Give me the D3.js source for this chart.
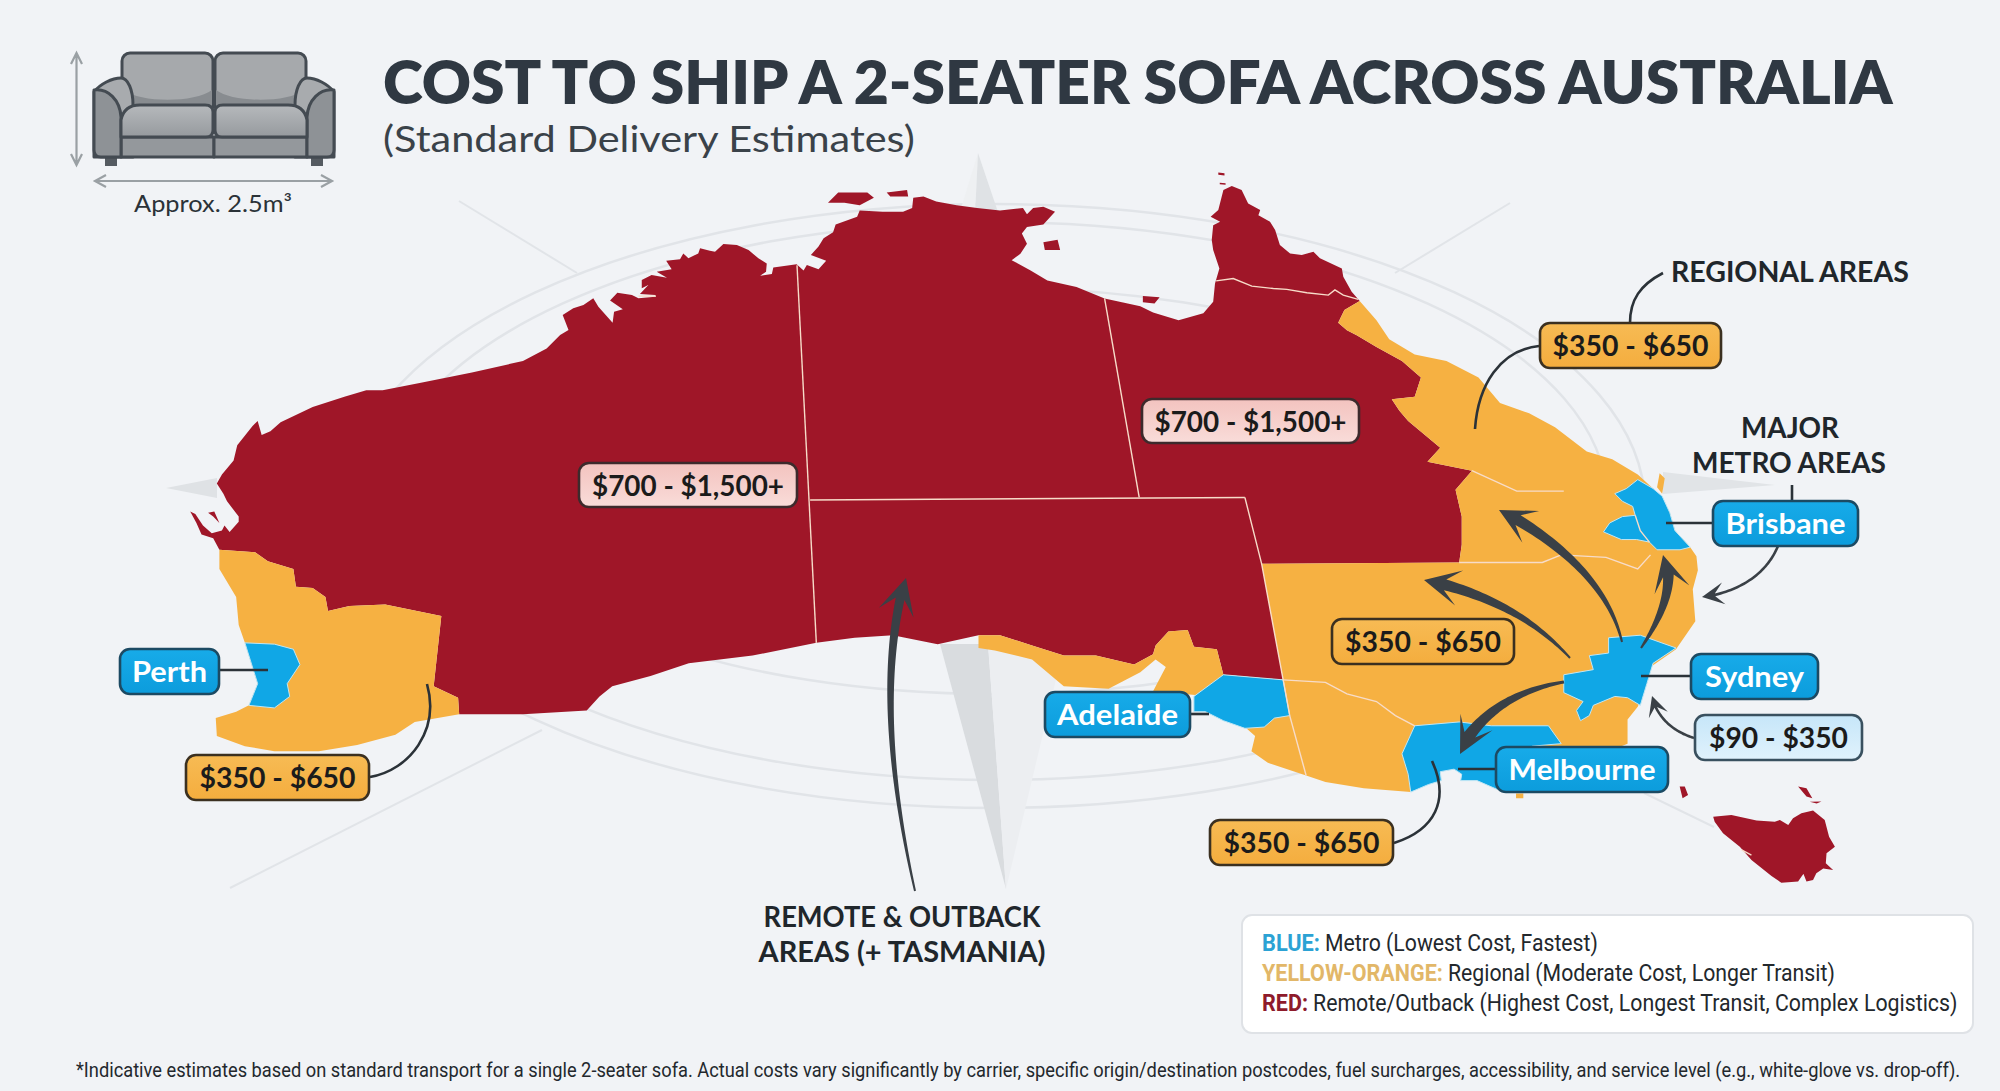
<!DOCTYPE html>
<html>
<head>
  <title>Cost to ship a 2-seater sofa across Australia</title>
  <meta charset="utf-8" />
  <style type="text/css">
    body { margin: 0; background: #f1f3f6; }
    svg { display: block; }
  </style>
  <script src="https://d3js.org/d3.v7.min.js" charset="utf-8" type="text/javascript"></script>
</head>
<body>
<svg id="chart" width="2000" height="1091"></svg>
<script>
  // outlines as [lon, lat] (its map is stretched and Tasmania sits east of true)
  var westNorthCoast = [[113.27,-28.16],[113.10,-27.62],[112.78,-27.44],[112.64,-26.90],[112.47,-26.36],[112.61,-26.48],[112.82,-27.02],[113.06,-27.38],[113.34,-27.26],[113.41,-27.02],[113.55,-27.32],[113.80,-26.84],[113.80,-26.60],[113.48,-25.88],[113.38,-25.52],[113.20,-25.04],[113.34,-24.62],[113.66,-23.96],[113.76,-23.24],[114.18,-22.34],[114.32,-22.10],[114.43,-22.76],[114.67,-22.58],[114.95,-22.16],[115.83,-21.44],[116.70,-20.96],[117.30,-20.66],[117.75,-20.66],[118.80,-20.30],[120.20,-19.82],[121.60,-19.28],[122.25,-18.69],[122.62,-18.06],[122.85,-17.82],[122.69,-17.12],[122.98,-16.80],[123.26,-16.65],[123.53,-16.33],[123.67,-16.73],[124.06,-17.48],[124.10,-16.96],[124.34,-16.85],[123.99,-16.44],[124.19,-16.07],[124.59,-16.18],[124.77,-16.33],[125.23,-16.26],[125.23,-16.18],[124.81,-16.13],[125.04,-15.71],[124.86,-15.86],[124.86,-15.47],[125.13,-15.24],[125.55,-15.36],[125.27,-15.08],[125.68,-14.97],[125.53,-14.56],[125.91,-14.50],[126.00,-14.22],[126.14,-14.45],[126.41,-14.22],[126.46,-13.98],[126.73,-14.09],[126.87,-14.14],[127.10,-13.78],[127.47,-13.83],[127.79,-14.06],[128.06,-14.45],[128.29,-14.69],[128.27,-15.08],[128.11,-15.27],[128.43,-15.19],[128.47,-14.88],[129.11,-14.73],[129.30,-15.03],[129.39,-14.77],[129.71,-14.97],[129.92,-14.56],[129.50,-14.30],[129.71,-13.90],[129.85,-13.51],[130.11,-13.22],[130.18,-12.86],[130.77,-12.50],[130.84,-12.20],[131.47,-12.26],[132.03,-12.26],[132.28,-12.08],[132.31,-11.60],[132.59,-11.54],[132.94,-11.78],[133.50,-11.96],[134.06,-12.08],[134.69,-12.20],[135.32,-12.08],[135.43,-12.38],[135.60,-12.08],[135.88,-12.02],[136.20,-12.26],[135.88,-12.86],[135.43,-12.98],[135.29,-13.28],[135.43,-13.76],[135.25,-14.24],[135.01,-14.54],[135.53,-15.02],[135.99,-15.50],[136.79,-15.80],[137.56,-16.34],[138.54,-16.70],[138.89,-17.00],[139.59,-17.36],[140.27,-17.04],[140.54,-16.49],[140.59,-15.63],[140.71,-14.93],[140.54,-14.06],[140.50,-13.59],[140.54,-12.89],[140.73,-12.73],[140.47,-12.50],[140.68,-12.18],[140.82,-11.24],[141.05,-11.05],[141.32,-11.24],[141.50,-11.87],[141.83,-12.18],[141.78,-12.42],[142.10,-12.73],[142.24,-13.12],[142.37,-13.83],[142.65,-14.22],[142.97,-14.30],[143.29,-14.14],[143.47,-14.45],[144.07,-14.93],[144.11,-15.32],[144.34,-16.02],[144.56,-16.46]];
  var queenslandFront = [[144.56,-16.46],[144.14,-16.88],[143.97,-17.48],[144.21,-17.84],[144.49,-18.08],[145.02,-18.62],[145.72,-19.28],[146.24,-20.06],[146.07,-20.96],[145.44,-21.08],[145.65,-21.62],[145.89,-22.10],[146.77,-23.36],[146.42,-24.02],[147.64,-24.44],[147.19,-25.34],[147.36,-26.60],[147.36,-27.92],[147.29,-28.76]];
  var southAusFront = [[142.46,-34.28],[140.82,-34.04],[140.64,-32.84],[140.01,-32.72],[139.84,-31.94],[139.31,-32.00],[138.96,-32.66],[138.89,-33.08],[138.37,-33.56],[137.32,-33.14],[136.44,-33.14],[135.57,-32.66],[134.69,-32.18],[134.10,-32.18]];
  var bightCoast = [[132.98,-32.60],[131.75,-32.18],[130.70,-32.30],[129.65,-32.54],[127.90,-33.14],[126.15,-33.50],[125.10,-34.10],[124.05,-34.58],[123.70,-35.06],[123.35,-35.72],[121.60,-35.90],[119.85,-35.90]];
  var westAusFront = [[119.85,-35.90],[119.82,-35.12],[119.15,-34.58],[119.36,-31.28],[117.82,-30.74],[116.84,-30.80],[116.25,-31.04],[116.18,-30.38],[115.83,-29.96],[115.37,-29.90],[115.30,-29.06],[114.60,-28.70],[114.25,-28.28]];
  var southWestCoast = [[118.63,-36.26],[118.10,-36.86],[117.05,-37.34],[116.00,-37.64],[114.78,-37.64],[113.97,-37.40],[113.20,-36.92],[113.17,-36.08],[113.73,-35.78],[114.08,-35.48],[114.32,-34.46],[113.97,-32.54],[113.80,-31.70],[113.73,-30.38],[113.27,-29.06]];
  var eastCoast = [[145.02,-17.36],[145.37,-18.26],[146.07,-18.98],[146.94,-19.28],[147.82,-20.06],[148.41,-21.26],[149.21,-21.74],[149.92,-22.40],[150.79,-23.54],[151.49,-23.90],[152.19,-24.62],[152.61,-25.28],[153.07,-26.42],[153.21,-27.26],[153.63,-28.04],[153.80,-28.46],[153.84,-29.12],[153.70,-30.02],[153.77,-31.52],[153.24,-32.84],[152.54,-33.68],[152.44,-34.46],[152.19,-35.54],[151.91,-36.14],[151.91,-37.28],[151.74,-37.40],[149.29,-37.40],[146.10,-37.70],[145.96,-39.56],[144.67,-39.38],[143.62,-39.08],[143.09,-38.78],[142.04,-38.18],[141.59,-37.64],[141.69,-36.92],[141.41,-36.50],[142.46,-34.28],[141.87,-28.82]];
  var spencerCoast = [[134.10,-32.78],[134.55,-32.90],[135.57,-33.32],[136.44,-34.58],[137.67,-34.70],[138.54,-33.92],[138.96,-33.32],[139.24,-33.68],[138.89,-34.82],[140.12,-35.00]];

  var sydneyRing = [[151.39,-32.30],[152.26,-32.18],[153.24,-32.78],[152.61,-33.50],[152.44,-34.46],[152.26,-35.48],[151.91,-35.12],[151.56,-35.06],[150.97,-35.48],[150.86,-35.96],[150.62,-36.20],[150.51,-35.72],[150.69,-35.30],[150.16,-34.88],[150.16,-34.04],[150.97,-33.80],[150.86,-33.14],[151.39,-33.02]];
  var brisbaneRing = [[152.19,-24.86],[152.61,-25.28],[152.86,-25.64],[153.07,-26.42],[153.21,-27.26],[153.63,-28.04],[153.35,-28.16],[152.72,-28.16],[152.51,-27.80],[152.16,-27.68],[151.74,-27.68],[151.25,-27.32],[151.42,-26.90],[151.77,-26.60],[152.12,-26.54],[152.05,-26.12],[151.77,-25.88],[151.56,-25.52],[151.88,-25.28]];
  var melbourneRing = [[145.72,-37.76],[146.07,-36.44],[147.29,-36.26],[148.17,-36.44],[149.74,-36.44],[150.09,-37.28],[149.29,-37.40],[148.90,-38.30],[148.34,-39.44],[147.78,-39.02],[147.33,-39.02],[147.36,-38.72],[147.15,-38.48],[146.77,-38.60],[146.80,-39.02],[146.45,-39.20],[145.96,-39.56],[145.89,-38.72]];
  var adelaideRing = [[140.01,-35.06],[140.82,-34.04],[142.46,-34.28],[142.64,-35.96],[142.22,-36.08],[141.94,-36.50],[141.41,-36.56],[140.82,-36.20],[140.33,-35.78],[140.01,-35.78]];
  var perthRing = [[113.97,-32.54],[114.78,-32.60],[115.30,-32.84],[115.48,-33.56],[115.13,-34.46],[115.20,-35.06],[114.78,-35.60],[114.08,-35.48],[114.32,-34.46]];

  var tasmaniaRing = [[154.26,-40.72],[154.76,-40.64],[155.45,-40.90],[155.95,-40.95],[156.09,-40.87],[156.32,-41.11],[156.45,-40.79],[156.68,-40.56],[157.00,-40.43],[157.32,-40.87],[157.44,-41.66],[157.60,-42.13],[157.37,-42.44],[157.35,-42.91],[157.55,-43.22],[157.28,-43.15],[157.09,-43.38],[157.00,-43.69],[156.82,-43.77],[156.73,-43.38],[156.91,-42.99],[156.68,-43.54],[156.59,-43.77],[156.13,-43.82],[155.86,-43.51],[155.31,-42.75],[154.99,-42.13],[154.53,-41.50],[154.30,-40.95]];
  var remoteIslands = [
    [[112.96,-26.42],[113.13,-26.36],[113.27,-26.90],[113.10,-26.60]],
    [[129.97,-11.84],[130.25,-11.36],[131.05,-11.36],[131.23,-11.60],[130.84,-11.96],[130.42,-11.84]],
    [[131.58,-11.36],[132.14,-11.24],[132.17,-11.54],[131.68,-11.54]],
    [[135.88,-13.70],[136.27,-13.58],[136.34,-14.06],[135.92,-14.06]],
    [[138.61,-16.22],[139.07,-16.28],[138.93,-16.58],[138.61,-16.52]],
    [[140.68,-10.42],[140.85,-10.45],[140.85,-10.55],[140.68,-10.52]],
    [[140.72,-10.90],[140.88,-10.92],[140.88,-10.99],[140.72,-10.97]],
    [[153.34,-39.30],[153.48,-39.30],[153.57,-39.70],[153.42,-39.85]],
    [[156.59,-39.30],[156.82,-39.38],[156.98,-39.85],[156.82,-39.77]],
    [[156.91,-40.01],[157.23,-40.00],[157.10,-40.10]]
  ];
  var fraserIsland = [[152.79,-24.56],[152.93,-24.80],[152.86,-25.52],[152.72,-25.22]];
  var bassIslet = [[148.85,-39.62],[149.05,-39.62],[149.05,-39.85],[148.85,-39.85]];

  var stateBorders = [
    [[129.12,-14.78],[129.65,-32.54]],
    [[129.48,-25.82],[141.41,-25.70]],
    [[141.41,-25.70],[141.87,-28.82],[142.46,-34.28],[142.64,-35.96],[143.09,-38.78]],
    [[137.56,-16.34],[138.51,-25.70]],
    [[140.62,-15.51],[141.09,-15.40],[141.60,-15.76],[142.19,-15.87],[142.56,-15.91],[143.11,-16.07],[143.70,-16.18],[143.88,-15.94],[144.11,-16.18],[144.52,-16.38]],
    [[147.64,-24.44],[148.87,-25.40],[150.16,-25.40]],
    [[147.29,-28.76],[149.57,-28.76],[150.09,-28.40],[151.32,-28.52],[152.19,-29.06],[152.54,-28.40]],
    [[142.46,-34.28],[143.62,-34.40],[144.21,-34.94],[145.02,-35.30],[145.54,-35.96],[146.07,-36.44]],
    [[152.12,-26.54],[152.26,-27.26],[152.51,-27.80]],
    [[124.77,-16.23],[125.25,-16.23]],
    [[155.04,-42.28],[155.31,-42.52]]
  ];

  var priceMetro = "$90 - $350";
  var priceRegional = "$350 - $650";
  var priceRemote = "$700 - $1,500+";
  var cities = ["Brisbane", "Sydney", "Melbourne", "Adelaide", "Perth"];
  var legendKeys = ["BLUE:", "YELLOW-ORANGE:", "RED:"];
  var legendTexts = ["Metro (Lowest Cost, Fastest)", "Regional (Moderate Cost, Longer Transit)", "Remote/Outback (Highest Cost, Longest Transit, Complex Logistics)"];
  var footnote = "*Indicative estimates based on standard transport for a single 2-seater sofa. Actual costs vary significantly by carrier, specific origin/destination postcodes, fuel surcharges, accessibility, and service level (e.g., white-glove vs. drop-off).";

  var tierColor = { metro: "#10a7e6", regional: "#f6b142", remote: "#9f1628" };
  var inkColor = "#2b3238";

  var svg = d3.select("#chart");
  var font = "Lato, 'Noto Sans', sans-serif";
  var narrowFont = "Roboto, sans-serif";

  var x = d3.scaleLinear().domain([107.25, 162.13]).range([0, 2000]);
  var y = d3.scaleLinear().domain([-2.3, -53.62]).range([0, 1091]);
  var path = d3.geoPath(d3.geoTransform({
    point: function (lon, lat) { this.stream.point(x(lon), y(lat)); }
  }));

  function polygon(rings) {
    return { type: "MultiPolygon", coordinates: rings.map(function (r) { return [r.concat([r[0]])]; }) };
  }

  var defs = svg.append("defs");
  function gradient(id, top, bottom) {
    var g = defs.append("linearGradient").attr("id", id).attr("x1", 0).attr("y1", 0).attr("x2", 0).attr("y2", 1);
    g.append("stop").attr("offset", "0%").attr("stop-color", top);
    g.append("stop").attr("offset", "100%").attr("stop-color", bottom);
  }
  gradient("pillRemote", "#f3c3bf", "#f9dcd9");
  gradient("pillMetro", "#c6e6f9", "#e0f2fc");
  gradient("pillRegional", "#f7bb54", "#f4ad3e");
  gradient("pillCity", "#17abe9", "#0c9cdc");
  gradient("sofaSeat", "#b6b9bc", "#969a9e");

  // compass rose behind the map
  var compass = svg.append("g").attr("class", "compass");
  [[995, 506, 650, 302], [995, 501, 612, 279], [995, 491, 510, 203]].forEach(function (e) {
    compass.append("ellipse").attr("cx", e[0]).attr("cy", e[1]).attr("rx", e[2]).attr("ry", e[3])
      .attr("fill", "none").attr("stroke", "#e1e4e8").attr("stroke-width", 2.5);
  });
  [[459, 201, 577, 273], [1510, 203, 1395, 273], [230, 888, 542, 730], [1644, 793, 1714, 827]].forEach(function (l) {
    compass.append("line").attr("x1", l[0]).attr("y1", l[1]).attr("x2", l[2]).attr("y2", l[3])
      .attr("stroke", "#e1e4e8").attr("stroke-width", 2);
  });
  [
    ["M978,153L959,215L975,215Z", "#eef0f2"], ["M978,153L975,215L999,215Z", "#dfe2e5"],
    ["M940,644L1006,889L988,644Z", "#d9dcdf"], ["M988,644L1006,889L1063,650Z", "#eceef1"],
    ["M166,488L217,478L217,498Z", "#dfe2e5"], ["M1775,485L1663,472L1663,494Z", "#e1e4e7"]
  ].forEach(function (s) {
    compass.append("path").attr("d", s[0]).attr("fill", s[1]);
  });

  // map regions
  var regions = [
    { name: "remote", tier: "remote", rings: [westNorthCoast.concat(queenslandFront, [[141.87,-28.82]], southAusFront, bightCoast, westAusFront), tasmaniaRing].concat(remoteIslands) },
    { name: "west", tier: "regional", rings: [[[113.27,-28.16]].concat(westAusFront.slice().reverse(), southWestCoast)] },
    { name: "east", tier: "regional", rings: [[[144.56,-16.46]].concat(eastCoast, queenslandFront.slice().reverse()), fraserIsland, bassIslet] },
    { name: "south", tier: "regional", rings: [southAusFront.concat(spencerCoast)] },
    { name: "brisbane", tier: "metro", rings: [brisbaneRing] },
    { name: "sydney", tier: "metro", rings: [sydneyRing] },
    { name: "melbourne", tier: "metro", rings: [melbourneRing] },
    { name: "adelaide", tier: "metro", rings: [adelaideRing] },
    { name: "perth", tier: "metro", rings: [perthRing] }
  ];

  svg.append("g").attr("class", "regions").selectAll("path")
    .data(regions)
    .enter()
    .append("path")
    .attr("d", function (d) { return path(polygon(d.rings)); })
    .attr("fill", function (d) { return tierColor[d.tier]; })
    .attr("stroke", function (d) { return d.tier === "metro" ? "#bfe6f5" : "none"; })
    .attr("stroke-width", 1)
    .attr("stroke-linejoin", "round");

  svg.append("g").attr("class", "borders").selectAll("path")
    .data(stateBorders)
    .enter()
    .append("path")
    .attr("d", function (d) { return path({ type: "LineString", coordinates: d }); })
    .attr("fill", "none")
    .attr("stroke", "#f7dcc9")
    .attr("stroke-width", 1.4);

  // plain text helper, squeezed sideways to the width measured on the reference
  function label(text, px, py, size, weight, color, anchor, width, family) {
    var t = svg.append("text")
      .attr("font-family", family || font).attr("font-size", size).attr("font-weight", weight)
      .attr("fill", color).attr("text-anchor", anchor || "start").text(text);
    var sx = width / t.node().getComputedTextLength();
    t.attr("transform", "translate(" + px + "," + py + ") scale(" + sx + ",1)");
    return t;
  }

  // thin leaders
  var leaders = [
    "M1663,273C1640,285 1630,300 1630,323", "M1539,346C1500,350 1478,385 1475,429", "M1792,485L1792,501",
    "M1666,523L1713,523", "M219,670L268,670", "M370,777C410,770 440,730 427,684", "M1190,714L1209,714",
    "M1641,676L1691,676", "M1458,769L1496,769", "M1394,843C1435,830 1450,800 1432,761"
  ];
  svg.append("g").attr("class", "leaders").selectAll("path")
    .data(leaders)
    .enter()
    .append("path")
    .attr("d", function (d) { return d; })
    .attr("fill", "none")
    .attr("stroke", inkColor)
    .attr("stroke-width", 2.6);

  // tapered arrows: cubic centre line, width grows to the head
  function arrowShape(p, w0, w1, head) {
    var left = [], right = [], n = 40, lastPt, lastN;
    for (var i = 0; i <= n; i++) {
      var t = i / n, u = 1 - t;
      var px = u*u*u*p[0][0] + 3*u*u*t*p[1][0] + 3*u*t*t*p[2][0] + t*t*t*p[3][0];
      var py = u*u*u*p[0][1] + 3*u*u*t*p[1][1] + 3*u*t*t*p[2][1] + t*t*t*p[3][1];
      var dx = 3*u*u*(p[1][0]-p[0][0]) + 6*u*t*(p[2][0]-p[1][0]) + 3*t*t*(p[3][0]-p[2][0]);
      var dy = 3*u*u*(p[1][1]-p[0][1]) + 6*u*t*(p[2][1]-p[1][1]) + 3*t*t*(p[3][1]-p[2][1]);
      var len = Math.sqrt(dx*dx + dy*dy), nx = -dy/len, ny = dx/len, ux = dx/len, uy = dy/len;
      var w = (w0 + (w1 - w0) * t) / 2;
      left.push([px + nx*w - ux*head*0.6*t, py + ny*w - uy*head*0.6*t]);
      right.push([px - nx*w - ux*head*0.6*t, py - ny*w - uy*head*0.6*t]);
      lastPt = [px, py]; lastN = [nx, ny, ux, uy];
    }
    var tip = lastPt, nn = lastN;
    var barbA = [tip[0] - nn[2]*head + nn[0]*head*0.5, tip[1] - nn[3]*head + nn[1]*head*0.5];
    var barbB = [tip[0] - nn[2]*head - nn[0]*head*0.5, tip[1] - nn[3]*head - nn[1]*head*0.5];
    return left.concat([barbA, tip, barbB], right.reverse());
  }

  var arrows = [
    { p: [[1622,642],[1610,590],[1565,545],[1499,510]], w0: 2, w1: 11, head: 36 },
    { p: [[1570,658],[1535,620],[1490,595],[1424,580]], w0: 2, w1: 11, head: 36 },
    { p: [[1641,648],[1660,620],[1672,590],[1663,555]], w0: 2, w1: 11, head: 36 },
    { p: [[1564,682],[1515,690],[1480,715],[1460,754]], w0: 3, w1: 12, head: 36 },
    { p: [[915,891],[890,780],[880,670],[906,578]], w0: 2, w1: 9, head: 36 },
    { p: [[1694,738],[1675,732],[1660,720],[1652,696]], w0: 2.6, w1: 2.6, head: 20 },
    { p: [[1778,546],[1768,570],[1745,590],[1702,597]], w0: 2.6, w1: 2.6, head: 22 }
  ];
  var area = d3.line();
  svg.append("g").attr("class", "arrows").selectAll("path")
    .data(arrows)
    .enter()
    .append("path")
    .attr("d", function (d) { return area(arrowShape(d.p, d.w0, d.w1, d.head)) + "Z"; })
    .attr("fill", "#3a4046");

  // pills
  function pill(x0, x1, y0, y1, fill, stroke, text, color, weight, textWidth) {
    svg.append("rect").attr("x", x0).attr("y", y0).attr("width", x1 - x0).attr("height", y1 - y0)
      .attr("rx", 10).attr("fill", fill).attr("stroke", stroke).attr("stroke-width", 2.6);
    label(text, (x0 + x1) / 2, (y0 + y1) / 2 + 10.5, 29, weight, color, "middle", textWidth);
  }
  var remoteEdge = "#3d2a2c", regionalEdge = "#3b3020", metroEdge = "#1c4a63", white = "#ffffff";
  pill(579, 797, 463, 507, "url(#pillRemote)", remoteEdge, priceRemote, "#1b1b1b", 700, 192);
  pill(1142, 1359, 399, 443, "url(#pillRemote)", remoteEdge, priceRemote, "#1b1b1b", 700, 192);
  pill(1540, 1721, 323, 368, "url(#pillRegional)", regionalEdge, priceRegional, "#1b1b1b", 700, 156);
  pill(1332, 1514, 619, 664, "url(#pillRegional)", regionalEdge, priceRegional, "#1b1b1b", 700, 156);
  pill(1210, 1393, 820, 865, "url(#pillRegional)", regionalEdge, priceRegional, "#1b1b1b", 700, 156);
  pill(186, 369, 755, 800, "url(#pillRegional)", regionalEdge, priceRegional, "#1b1b1b", 700, 156);
  pill(1695, 1862, 715, 760, "url(#pillMetro)", "#39505f", priceMetro, "#1b1b1b", 700, 139);
  pill(1713, 1858, 501, 546, "url(#pillCity)", metroEdge, cities[0], white, 700, 120);
  pill(1691, 1818, 654, 699, "url(#pillCity)", metroEdge, cities[1], white, 700, 99);
  pill(1496, 1668, 747, 792, "url(#pillCity)", metroEdge, cities[2], white, 700, 147);
  pill(1045, 1190, 692, 737, "url(#pillCity)", metroEdge, cities[3], white, 700, 121);
  pill(120, 219, 649, 694, "url(#pillCity)", metroEdge, cities[4], white, 700, 75);

  // headings
  label("COST TO SHIP A 2-SEATER SOFA ACROSS AUSTRALIA", 383, 104, 60, 800, "#2f3842", "start", 1510);
  label("(Standard Delivery Estimates)", 383, 152, 37, 400, "#3a4249", "start", 532);
  label("REGIONAL AREAS", 1671, 282, 28, 700, "#20262b", "start", 238);
  label("MAJOR", 1790, 438, 28, 700, "#20262b", "middle", 98);
  label("METRO AREAS", 1789, 473, 28, 700, "#20262b", "middle", 194);
  label("REMOTE & OUTBACK", 902, 927, 29, 700, "#20262b", "middle", 277);
  label("AREAS (+ TASMANIA)", 902, 962, 29, 700, "#20262b", "middle", 287);

  // legend
  svg.append("rect").attr("x", 1242).attr("y", 915).attr("width", 731).attr("height", 118).attr("rx", 10)
    .attr("fill", "#ffffff").attr("stroke", "#dfe2e6").attr("stroke-width", 2);
  var keyColors = ["#2ba2d4", "#e2b768", "#8e1b2b"];
  var keyWidths = [58, 181, 46], textStarts = [1325, 1448, 1313], textWidths = [273, 387, 645], rowY = [951, 981, 1011];
  legendKeys.forEach(function (k, i) {
    label(k, 1262, rowY[i], 23, 700, keyColors[i], "start", keyWidths[i], narrowFont);
    label(legendTexts[i], textStarts[i], rowY[i], 23, 400, "#23282d", "start", textWidths[i], narrowFont);
  });

  label(footnote, 76, 1077, 20, 400, "#23282d", "start", 1886, narrowFont);

  // sofa icon, right side is the left side mirrored
  var sofa = svg.append("g").attr("class", "sofa").attr("stroke", "#444b52").attr("stroke-width", 3).attr("stroke-linejoin", "round");
  [sofa.append("g"), sofa.append("g").attr("transform", "translate(428,0) scale(-1,1)")].forEach(function (side) {
    side.append("rect").attr("x", 105).attr("y", 157).attr("width", 12).attr("height", 9).attr("fill", "#555b61").attr("stroke", "none");
    side.append("rect").attr("x", 122).attr("y", 53).attr("width", 91).attr("height", 60).attr("rx", 8).attr("fill", "#a6a9ac");
    side.append("path").attr("d", "M124,90C140,103 195,103 212,90L212,108L124,108Z").attr("fill", "#888c90").attr("stroke", "none");
    side.append("path").attr("d", "M94,92C100,84 112,78 121,78C128,78 133,90 133,105L133,157L94,157Z").attr("fill", "#a8abae");
    side.append("rect").attr("x", 121).attr("y", 137).attr("width", 93).attr("height", 20).attr("fill", "#94989c");
    side.append("path").attr("d", "M94,90C108,88 120,100 121,117L121,157L101,157Q94,157 94,150Z").attr("fill", "#8e9296");
    side.append("path").attr("d", "M121,137L121,120C123,110 130,105 140,105L205,105Q213,105 213,112L213,130Q213,137 206,137Z").attr("fill", "url(#sofaSeat)");
  });

  // sofa dimension arrows
  var dim = svg.append("g").attr("stroke", "#9aa0a4").attr("stroke-width", 2.2).attr("fill", "none");
  dim.append("path").attr("d", "M76.5,54L76.5,164M71,64L76.5,53L82,64M71,154L76.5,165L82,154");
  dim.append("path").attr("d", "M96,181L331,181M106,175L95,181L106,187M321,175L332,181L321,187");
  label("Approx. 2.5m³", 213, 212, 24, 400, "#2b3238", "middle", 158);
</script>
</body>
</html>
